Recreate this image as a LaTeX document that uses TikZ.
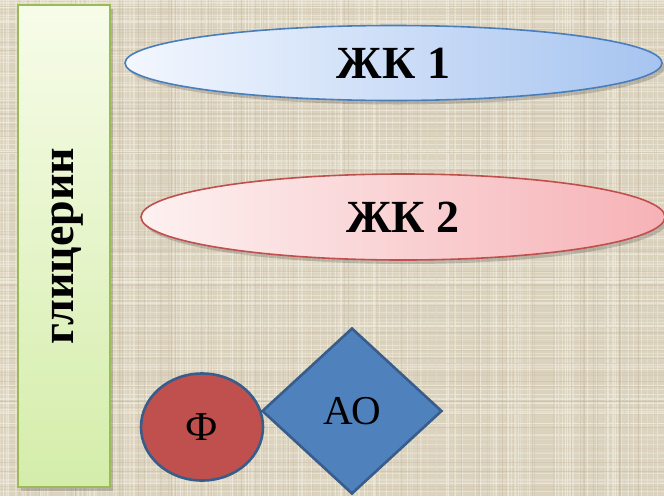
\documentclass[tikz,border=0pt]{standalone}
\usepackage{fontspec}
\setmainfont{Liberation Serif}
\usetikzlibrary{shapes.geometric,shadows}
\definecolor{bgbase}{RGB}{220,211,191}
\definecolor{bglight}{RGB}{239,234,220}
\definecolor{bgdark}{RGB}{190,178,155}
\definecolor{glytop}{RGB}{247,252,233}
\definecolor{glybot}{RGB}{212,237,170}
\definecolor{glyedge}{RGB}{155,187,89}
\definecolor{faoneleft}{RGB}{243,247,254}
\definecolor{faoneright}{RGB}{166,196,240}
\definecolor{faoneedge}{RGB}{74,126,187}
\definecolor{fatwoleft}{RGB}{253,241,241}
\definecolor{fatworight}{RGB}{246,178,182}
\definecolor{fatwoedge}{RGB}{192,80,77}
\definecolor{phfill}{RGB}{192,80,77}
\definecolor{aofill}{RGB}{79,129,189}
\definecolor{darkedge}{RGB}{56,93,138}
\tikzset{
  softshadow/.style={drop shadow={opacity=0.22, shadow xshift=3pt, shadow yshift=-4pt, fill=black!80}},
  bigtext/.style={font=\fontsize{46}{50}\selectfont\bfseries, text=black},
  midtext/.style={font=\fontsize{41}{45}\selectfont, text=black},
  fatacid/.style={ellipse, inner sep=0pt, line width=1.6pt, softshadow, bigtext},
  thread/.style={line width=0.9pt},
}
\begin{document}
\begin{tikzpicture}[x=1pt,y=-1pt]
\useasboundingbox (0,0) rectangle (664,496);
\fill[bgbase] (0,0) rectangle (664,496);
\pgfmathsetseed{11}
\foreach \k in {1,...,170}{
  \pgfmathsetmacro\pp{rnd*496}
  \pgfmathsetmacro\op{0.3+0.5*rnd}
  \draw[thread, bglight, opacity=\op] (0,\pp) -- (664,\pp);
}
\foreach \k in {1,...,210}{
  \pgfmathsetmacro\pp{rnd*664}
  \pgfmathsetmacro\op{0.3+0.5*rnd}
  \draw[thread, bglight, opacity=\op] (\pp,0) -- (\pp,496);
}
\foreach \k in {1,...,90}{
  \pgfmathsetmacro\pp{rnd*496}
  \pgfmathsetmacro\op{0.1+0.25*rnd}
  \draw[thread, bgdark, opacity=\op] (0,\pp) -- (664,\pp);
}
\foreach \k in {1,...,110}{
  \pgfmathsetmacro\pp{rnd*664}
  \pgfmathsetmacro\op{0.1+0.25*rnd}
  \draw[thread, bgdark, opacity=\op] (\pp,0) -- (\pp,496);
}

% glycerin bar
\node[rectangle, draw=glyedge, line width=1.8pt, top color=glytop, bottom color=glybot,
      minimum width=92pt, minimum height=482pt, inner sep=0pt, softshadow] (gly) at (64,246) {};
\node[bigtext, rotate=90] (glytext) at (68,246) {глицерин};

% fatty acids
\node[fatacid, draw=faoneedge, left color=faoneleft, right color=faoneright,
      minimum width=537pt, minimum height=75pt] (fa1) at (393.5,63) {ЖК 1};
\node[fatacid, draw=fatwoedge, left color=fatwoleft, right color=fatworight,
      minimum width=524pt, minimum height=86pt] (fa2) at (403,217) {ЖК 2};

% phosphate and amino alcohol
\node[ellipse, draw=darkedge, fill=phfill, line width=2.6pt, inner sep=0pt,
      minimum width=122pt, minimum height=107pt, midtext] (ph) at (202,427) {Ф};
\node[diamond, draw=darkedge, fill=aofill, line width=2.6pt, inner sep=0pt, aspect=1.08,
      minimum width=180pt, minimum height=166pt, midtext] (ao) at (352,411) {АО};
\end{tikzpicture}
\end{document}
